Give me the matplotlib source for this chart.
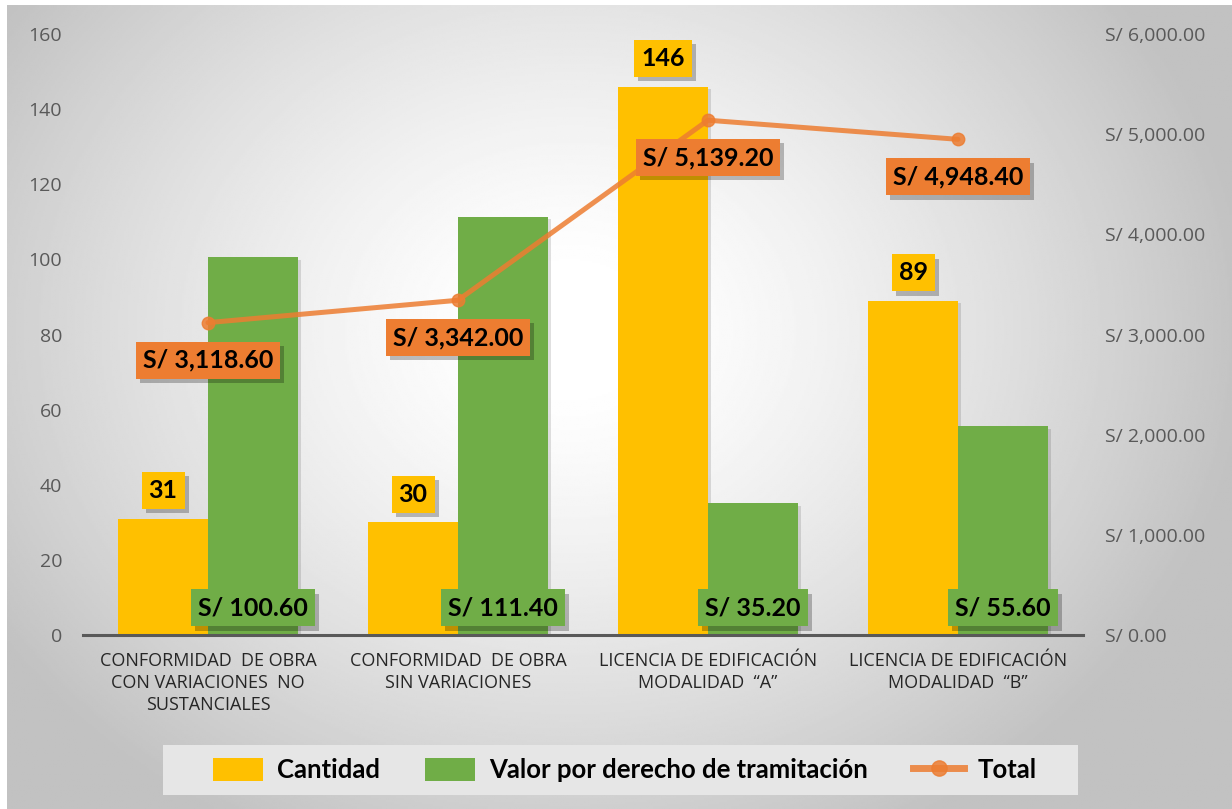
import matplotlib.pyplot as plt
from matplotlib import patheffects as pe
from matplotlib.patches import Rectangle, Patch
from matplotlib.lines import Line2D
import numpy as np

# data
categorias = ["CONFORMIDAD  DE OBRA\nCON VARIACIONES  NO\nSUSTANCIALES",
              "CONFORMIDAD  DE OBRA\nSIN VARIACIONES",
              "LICENCIA DE EDIFICACIÓN\nMODALIDAD  \u201cA\u201d",
              "LICENCIA DE EDIFICACIÓN\nMODALIDAD  \u201cB\u201d"]
cantidad = [31, 30, 146, 89]
valor = [100.60, 111.40, 35.20, 55.60]
total = [3118.60, 3342.00, 5139.20, 4948.40]

c_gold = "#FFC000"
c_green = "#70AD47"
c_orange = "#ED7D31"
bold_font = "Lato"
tick_font = "Open Sans"

W, H = 1232, 809
fig = plt.figure(figsize=(W / 100, H / 100), dpi=100, facecolor="white")

# radial gray gradient background
bg = fig.add_axes([7 / W, 0, 1 - 7 / W, 1 - 5 / H], zorder=-10)
yy, xx = np.mgrid[0:400, 0:600]
gx = xx / 599 * (W - 7) + 7
gy = yy / 399 * (H - 5) + 5
r = np.hypot(gx - 570, (gy - 330) * 1.2)
v = 1 - 0.24 * np.clip((r - 60) / 620, 0, 1) ** 1.3
bg.imshow(v, cmap="gray", vmin=0, vmax=1, aspect="auto", extent=[0, 1, 1, 0])
bg.axis("off")

ax = fig.add_axes([83 / W, 1 - 635 / H, 1000 / W, 601 / H])
ax.patch.set_alpha(0)
ax2 = ax.twinx()

x = np.arange(len(categorias))
w = 0.36
shadow = [pe.withSimplePatchShadow(offset=(2, -2), shadow_rgbFace="k", alpha=0.12), pe.Normal()]
b1 = ax.bar(x - w / 2, cantidad, w, color=c_gold, zorder=2)
b2 = ax.bar(x + w / 2, valor, w, color=c_green, zorder=2)
for b in list(b1) + list(b2):
    b.set_path_effects(shadow)

ax.set_xlim(-0.5, 3.5)
ax.set_ylim(0, 160)
ax.set_yticks(range(0, 161, 20))
ax2.set_ylim(0, 6000)
ax2.set_yticks(range(0, 6001, 1000))
ax2.set_yticklabels(["S/ {:,.2f}".format(t) for t in range(0, 6001, 1000)])

ax.set_xticks(x)
ax.set_xticklabels(categorias, fontsize=13, family=tick_font, color="#262626",
                   linespacing=1.3, va="top")
ax.tick_params(axis="x", length=0, pad=12)
ax.tick_params(axis="y", length=0, pad=15, labelsize=14, labelcolor="#595959")
ax2.tick_params(axis="y", length=0, pad=16, labelsize=14, labelcolor="#595959")
for lab in ax.get_yticklabels() + ax2.get_yticklabels():
    lab.set_family(tick_font)

for a in (ax, ax2):
    for s in ("top", "left", "right"):
        a.spines[s].set_visible(False)
ax2.spines["bottom"].set_visible(False)
ax.spines["bottom"].set_color("#595959")
ax.spines["bottom"].set_linewidth(2.2)

ax2.plot(x, total, color=c_orange, lw=3.6, alpha=0.85, marker="o", ms=9,
         solid_capstyle="round", zorder=3)

box_shadow = [pe.withSimplePatchShadow(offset=(3, -3), shadow_rgbFace="k", alpha=0.25)]


def label(a, xy, txt, off, fc):
    t = a.annotate(txt, xy, xytext=(0, off), textcoords="offset points",
                   ha="center", va="center", fontsize=18, fontweight="bold",
                   family=bold_font, color="black", zorder=5,
                   bbox=dict(boxstyle="square,pad=0.28", fc=fc, ec="none"))
    t.get_bbox_patch().set_path_effects(box_shadow)
    return t


for i in range(len(x)):
    label(ax, (x[i] - w / 2, cantidad[i]), str(cantidad[i]), 20, c_gold)
    label(ax, (x[i] + w / 2, 0), "S/ {:,.2f}".format(valor[i]), 19.5, c_green)
    label(ax2, (x[i], total[i]), "S/ {:,.2f}".format(total[i]), -27, c_orange)

# legend
fig.patches.append(Rectangle((163 / W, 1 - 795 / H), 915 / W, 50 / H,
                             transform=fig.transFigure, fc="#e6e6e6", ec="none", zorder=0))
handles = [Patch(fc=c_gold), Patch(fc=c_green),
           Line2D([], [], color=c_orange, lw=5, alpha=0.85, marker="o", ms=11)]
fig.legend(handles, ["Cantidad", "Valor por derecho de tramitación", "Total"],
           loc="center", bbox_to_anchor=(625 / W, 1 - 770 / H), ncol=3, frameon=False,
           prop=dict(family=bold_font, weight="bold", size=18.5),
           handlelength=1.95, handleheight=1.05, handletextpad=0.55, columnspacing=1.75)

fig.savefig("out.png", dpi=100)
